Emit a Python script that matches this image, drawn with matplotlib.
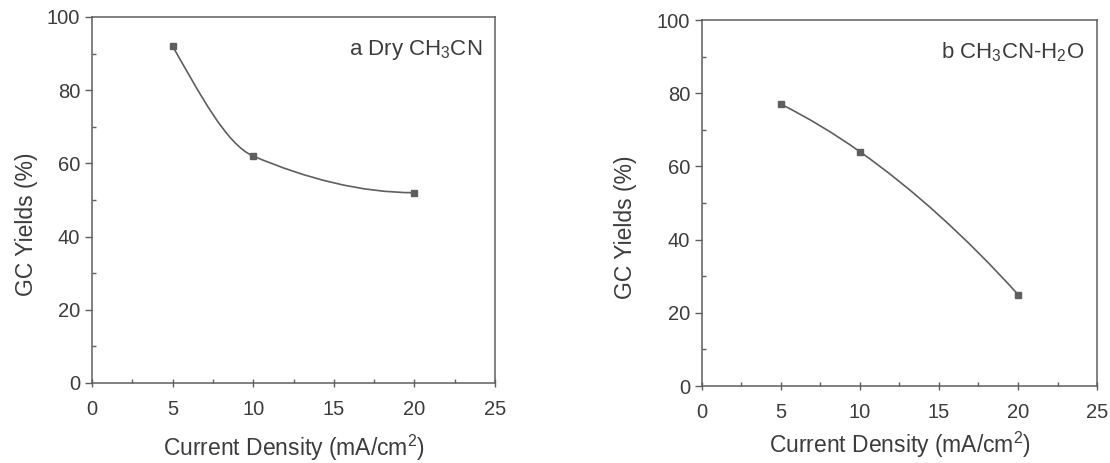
import numpy as np
import matplotlib
matplotlib.use("Agg")
import matplotlib.pyplot as plt
from matplotlib.path import Path
from matplotlib.patches import PathPatch
from matplotlib.ticker import MultipleLocator

plt.rcParams['font.family'] = ['Liberation Sans', 'DejaVu Sans']
plt.rcParams['mathtext.default'] = 'regular'

# data
current_density = [5, 10, 20]
yield_dry = [92, 62, 52]
yield_wet = [77, 64, 25]
labels = ['a Dry CH$_3$CN', 'b CH$_3$CN-H$_2$O']

gray = '#5e5e5e'
text_gray = '#3c3c3c'


def pchip_slopes(x, y):
    # monotone cubic (Fritsch-Carlson) tangents
    h = np.diff(x)
    d = np.diff(y) / h
    m = np.zeros_like(y)
    for k in range(1, len(x) - 1):
        if d[k - 1] * d[k] > 0:
            w1 = 2 * h[k] + h[k - 1]
            w2 = h[k] + 2 * h[k - 1]
            m[k] = (w1 + w2) / (w1 / d[k - 1] + w2 / d[k])
    m0 = ((2 * h[0] + h[1]) * d[0] - h[0] * d[1]) / (h[0] + h[1])
    m[0] = m0 if np.sign(m0) == np.sign(d[0]) else 0
    mn = ((2 * h[-1] + h[-2]) * d[-1] - h[-1] * d[-2]) / (h[-1] + h[-2])
    m[-1] = mn if np.sign(mn) == np.sign(d[-1]) else 0
    return m


def smooth_path(x, y):
    x = np.asarray(x, float)
    y = np.asarray(y, float)
    m = pchip_slopes(x, y)
    verts = [(x[0], y[0])]
    codes = [Path.MOVETO]
    for i in range(len(x) - 1):
        h = x[i + 1] - x[i]
        verts += [(x[i] + h / 3, y[i] + m[i] * h / 3),
                  (x[i + 1] - h / 3, y[i + 1] - m[i + 1] * h / 3),
                  (x[i + 1], y[i + 1])]
        codes += [Path.CURVE4] * 3
    return Path(verts, codes)


fig = plt.figure(figsize=(11.1, 4.63), dpi=100)
ax_a = fig.add_axes([0.0829, 0.1728, 0.3631, 0.7905])
ax_b = fig.add_axes([0.6324, 0.1663, 0.3559, 0.7905])

panels = [(ax_a, yield_dry, labels[0], -0.135, 0.91, 10),
          (ax_b, yield_wet, labels[1], -0.165, 0.913, 6)]
for ax, ys, lab, ylx, ty, lpad in panels:
    ax.add_patch(PathPatch(smooth_path(current_density, ys),
                           facecolor='none', edgecolor=gray, linewidth=1.2))
    ax.plot(current_density, ys, 's', color=gray, markersize=4, linestyle='none')
    ax.set_xlim(0, 25)
    ax.set_ylim(0, 100)
    ax.xaxis.set_major_locator(MultipleLocator(5))
    ax.xaxis.set_minor_locator(MultipleLocator(2.5))
    ax.yaxis.set_major_locator(MultipleLocator(20))
    ax.yaxis.set_minor_locator(MultipleLocator(10))
    ax.tick_params(axis='x', which='major', direction='inout', length=6, width=1,
                   color=gray, labelcolor=text_gray, labelsize=14.5, pad=9)
    ax.tick_params(axis='y', which='major', direction='out', length=5, width=1,
                   color=gray, labelcolor=text_gray, labelsize=14.5, pad=3.5)
    ax.tick_params(which='minor', direction='in', length=3, width=1, color=gray)
    for s in ax.spines.values():
        s.set_color(gray)
        s.set_linewidth(1.1)
    ax.set_xlabel('Current Density (mA/cm$^2$)', fontsize=16.5, color=text_gray, labelpad=lpad)
    ax.set_ylabel('GC Yields (%)', fontsize=16.5, color=text_gray)
    ax.yaxis.set_label_coords(ylx, 0.434)
    ax.text(0.968, ty, lab, transform=ax.transAxes, ha='right', va='center',
            fontsize=16, color=text_gray)

fig.savefig('out.png', dpi=100)
